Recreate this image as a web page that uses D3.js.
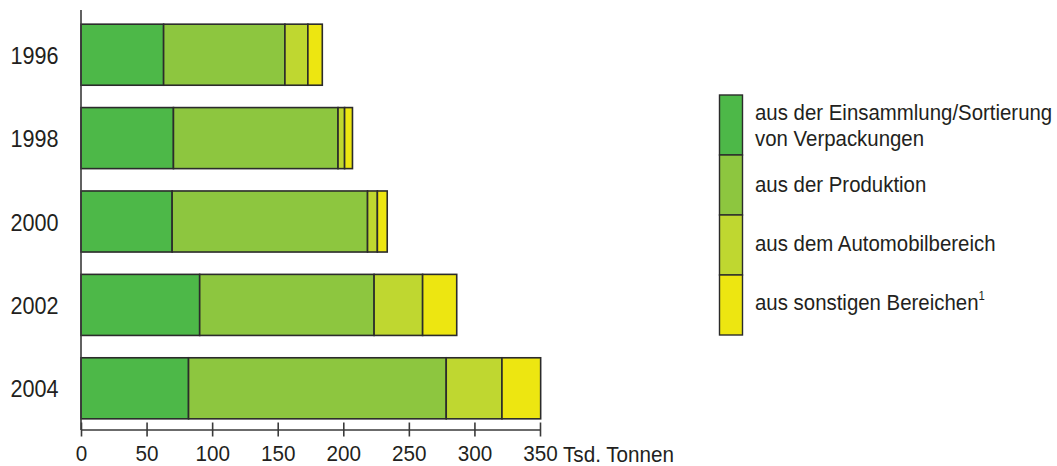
<!DOCTYPE html>
<html>
<head>
<meta charset="utf-8">
<script src="https://cdn.jsdelivr.net/npm/d3@7"></script>
<style>
  html, body { margin: 0; padding: 0; background: #fff; }
  svg { display: block; }
  text { font-family: "Liberation Sans", Arial, sans-serif; fill: #231f20; }
</style>
</head>
<body>
<svg id="chart" width="1057" height="466"></svg>
<script>
// Kunststoffabfälle, Tsd. Tonnen
const years = ["1996", "1998", "2000", "2002", "2004"];
const sammlung = [63, 70.5, 69.5, 90.5, 82];
const produktion = [92.5, 125.5, 149, 133, 196.5];
const automobil = [17.5, 5, 7.5, 37, 42.5];
const sonstige = [11, 6, 7.5, 26, 29.5];
const tickValues = [0, 50, 100, 150, 200, 250, 300, 350];
const unitLabel = "Tsd. Tonnen";
const seriesNames = [
  ["aus der Einsammlung/Sortierung", "von Verpackungen"],
  ["aus der Produktion"],
  ["aus dem Automobilbereich"],
  ["aus sonstigen Bereichen"]
];
const colors = ["#4db848", "#8dc63f", "#bfd730", "#ede611"];
const stroke = "#2b2b2b";
const narrow = 0.94; // horizontal squeeze for a condensed look

const seriesValues = [sammlung, produktion, automobil, sonstige];
const rows = years.map((y, i) => {
  const r = { year: y };
  seriesValues.forEach((s, k) => r["s" + k] = s[i]);
  return r;
});
const keys = seriesValues.map((_, k) => "s" + k);
const stacked = d3.stack().keys(keys)(rows);

const svg = d3.select("#chart");

const x = d3.scaleLinear().domain([0, 350]).range([81, 540]);
const y = d3.scaleBand().domain(years).range([13, 430])
  .paddingInner(0.268).paddingOuter(0.134);

// stacked bars
svg.append("g").selectAll("g")
  .data(stacked)
  .join("g")
  .attr("fill", (d, i) => colors[i])
  .selectAll("rect")
  .data(d => d)
  .join("rect")
  .attr("x", d => x(d[0]))
  .attr("y", d => y(d.data.year))
  .attr("width", d => x(d[1]) - x(d[0]))
  .attr("height", y.bandwidth())
  .attr("stroke", stroke)
  .attr("stroke-width", 1.6);

// vertical baseline
svg.append("line")
  .attr("x1", x(0)).attr("x2", x(0))
  .attr("y1", 10).attr("y2", 430)
  .attr("stroke", "#3a3a3a").attr("stroke-width", 1.6);

// year labels
svg.append("g").selectAll("text")
  .data(years)
  .join("text")
  .attr("transform", d => `translate(58.5,${y(d) + y.bandwidth() / 2 + 9}) scale(0.9,1)`)
  .attr("text-anchor", "end")
  .attr("font-size", 24)
  .text(d => d);

// bottom axis with ticks crossing the line
const axisY = 429.5;
const axis = svg.append("g").attr("transform", `translate(0,${axisY})`)
  .call(d3.axisBottom(x).tickValues(tickValues).tickSize(7).tickSizeOuter(0).tickFormat(d3.format("d")));
axis.attr("font-family", null).attr("font-size", null);
axis.select(".domain").attr("stroke", "#3a3a3a").attr("stroke-width", 1.6);
axis.selectAll(".tick line")
  .attr("y1", -7).attr("y2", 7)
  .attr("stroke", "#3a3a3a").attr("stroke-width", 1.6);
axis.selectAll(".tick text")
  .attr("y", 32)
  .attr("dy", 0)
  .attr("font-size", 22)
  .attr("fill", "#231f20")
  .attr("transform", `scale(${narrow},1)`);

svg.append("text")
  .attr("transform", `translate(${x(350) + 23},${axisY + 32}) scale(${narrow},1)`)
  .attr("font-size", 22)
  .text(unitLabel);

// legend: stacked colour swatches with labels
const lgX = 719.5, lgTop = 95, lgH = 60, lgW = 23;
const legend = svg.append("g");
legend.selectAll("rect")
  .data(colors)
  .join("rect")
  .attr("x", lgX)
  .attr("y", (d, i) => lgTop + i * lgH)
  .attr("width", lgW)
  .attr("height", lgH)
  .attr("fill", d => d)
  .attr("stroke", stroke)
  .attr("stroke-width", 1.4);

const labelBaselines = [119.5, 191.5, 251, 310];
seriesNames.forEach((lines, i) => {
  const t = legend.append("text")
    .attr("transform", `translate(755,${labelBaselines[i]}) scale(0.95,1)`)
    .attr("font-size", 21.5);
  lines.forEach((ln, j) => {
    t.append("tspan").attr("x", 0).attr("dy", j === 0 ? 0 : 27).text(ln);
  });
  if (i === 3) {
    t.append("tspan").attr("font-size", 12).attr("dy", -10).text("1");
  }
});
</script>
</body>
</html>
